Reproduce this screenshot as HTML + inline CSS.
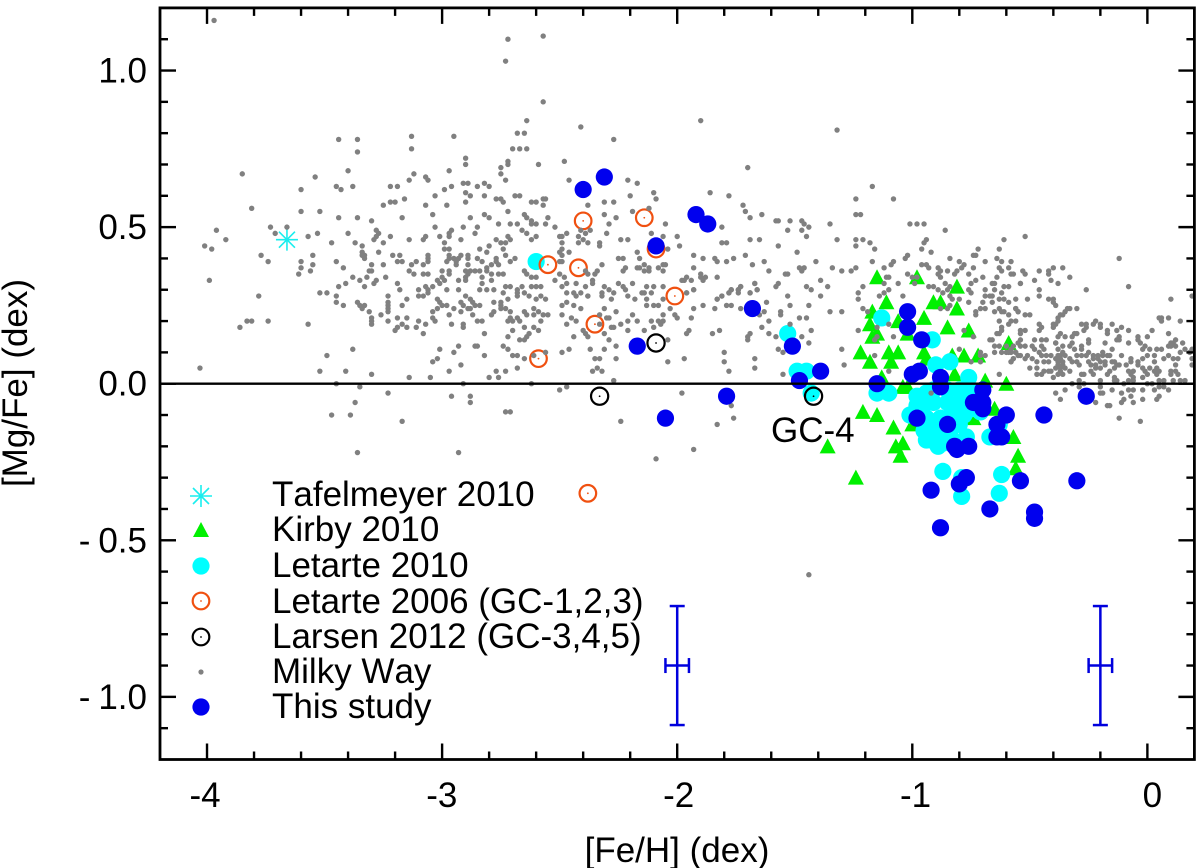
<!DOCTYPE html>
<html lang="en">
<head>
<meta charset="utf-8">
<title>[Mg/Fe] vs [Fe/H]</title>
<style>
html,body{margin:0;padding:0;background:#fff;}
svg{display:block;}
text{font-family:"Liberation Sans",Helvetica,Arial,sans-serif;font-size:35px;fill:#000;font-kerning:none;}
</style>
</head>
<body>
<svg id="chart" xmlns="http://www.w3.org/2000/svg" width="1200" height="868" viewBox="0 0 1200 868">
  <rect x="0" y="0" width="1200" height="868" fill="#fff"/>
  <g id="series"></g>
  <g id="axes"></g>
  <text x="677" y="862" text-anchor="middle">[Fe/H] (dex)</text>
  <text x="27" y="383" text-anchor="middle" transform="rotate(-90 27 383)">[Mg/Fe] (dex)</text>
  <text x="771" y="442">GC-4</text>
  <g>
    <g>
      <g stroke="#19eeee" stroke-width="1.6">
        <line x1="190" y1="496" x2="212" y2="496"/><line x1="201" y1="485" x2="201" y2="507"/><line x1="193" y1="488" x2="209" y2="504"/><line x1="193" y1="504" x2="209" y2="488"/>
      </g>
      <text x="272" y="506">Tafelmeyer 2010</text>
    </g>
    <g>
      <polygon points="201,522 209,537 193,537" fill="#00f000"/>
      <text x="272" y="541">Kirby 2010</text>
    </g>
    <g>
      <circle cx="201" cy="566" r="8.6" fill="#00ffff"/>
      <text x="272" y="577">Letarte 2010</text>
    </g>
    <g>
      <circle cx="201" cy="601" r="8.3" fill="none" stroke="#f05010" stroke-width="2.2"/>
      <circle cx="201" cy="601" r="0.9" fill="#f05010"/>
      <text x="272" y="613">Letarte 2006 (GC-1,2,3)</text>
    </g>
    <g>
      <circle cx="201" cy="637" r="8.3" fill="none" stroke="#000" stroke-width="2.2"/>
      <circle cx="201" cy="637" r="0.9" fill="#000"/>
      <text x="272" y="648">Larsen 2012 (GC-3,4,5)</text>
    </g>
    <g>
      <circle cx="201" cy="672" r="2.6" fill="#808080"/>
      <text x="272" y="683">Milky Way</text>
    </g>
    <g>
      <circle cx="201" cy="707" r="8.6" fill="#0000ee"/>
      <text x="272" y="718">This study</text>
    </g>
  </g>
</svg>
<script>
const xTickValues = [-4, -3, -2, -1, 0];
const xTickLabels = ["-4", "-3", "-2", "-1", "0"];
const yTickValues = [1, 0.5, 0, -0.5, -1];
const yTickLabels = ["1.0", "0.5", "0.0", "-0.5", "-1.0"];
const xDomain = [-4.2, 0.2];
const yDomain = [-1.2, 1.2];
const xMinorStep = 0.2;
const yMinorStep = 0.1;

const tafelmeyer = [[-3.66, 0.46]];
const kirby = [[-1.15,0.34],[-0.98,0.34],[-0.81,0.31],[-1.11,0.26],[-0.91,0.26],[-0.88,0.26],[-0.81,0.24],[-1.17,0.23],[-1.06,0.20],[-0.95,0.21],[-1.18,0.19],[-0.85,0.18],[-0.76,0.17],[-1.02,0.16],[-1.15,0.16],[-1.17,0.15],[-1.22,0.10],[-1.10,0.10],[-1.06,0.10],[-0.95,0.10],[-0.78,0.09],[-0.72,0.09],[-0.59,0.13],[-1.18,0.07],[-1.09,0.07],[-0.94,0.08],[-0.83,0.09],[-0.82,0.03],[-1.13,0.02],[-1.04,-0.01],[-1.02,-0.01],[-0.69,0.01],[-0.60,0.00],[-1.21,-0.09],[-1.15,-0.10],[-1.08,-0.14],[-1.00,-0.13],[-0.74,-0.11],[-0.65,-0.08],[-1.07,-0.20],[-1.04,-0.19],[-1.05,-0.23],[-0.57,-0.17],[-0.55,-0.23],[-0.56,-0.27],[-1.24,-0.30],[-1.36,-0.20]];
const letarte2010 = [[-2.60,0.39],[-1.53,0.16],[-1.49,0.04],[-1.45,0.04],[-1.43,-0.03],[-1.13,0.21],[-0.915,0.14],[-0.90,0.06],[-0.84,0.07],[-0.76,0.02],[-1.15,-0.03],[-1.10,-0.03],[-0.98,-0.04],[-0.98,-0.07],[-1.01,-0.10],[-0.94,-0.03],[-0.91,-0.02],[-0.85,-0.02],[-0.80,-0.02],[-0.76,-0.02],[-0.91,-0.06],[-0.85,-0.06],[-0.80,-0.06],[-0.75,-0.08],[-0.71,-0.09],[-0.94,-0.11],[-0.88,-0.11],[-0.83,-0.11],[-0.80,-0.13],[-0.95,-0.15],[-0.92,-0.18],[-0.87,-0.19],[-0.88,-0.15],[-0.84,-0.15],[-0.77,-0.17],[-0.67,-0.17],[-0.63,-0.13],[-0.87,-0.28],[-0.62,-0.29],[-0.79,-0.30],[-0.79,-0.36],[-0.63,-0.35],[-0.94,-0.18],[-0.89,-0.20],[-0.83,-0.18],[-0.90,-0.13],[-0.83,-0.09],[-0.78,-0.10],[-0.96,-0.08]];
const letarte2006 = [[-2.40,0.52],[-2.14,0.53],[-2.09,0.43],[-2.42,0.37],[-2.55,0.38],[-2.01,0.28],[-2.35,0.19],[-2.59,0.08],[-2.38,-0.35]];
const larsen2012 = [[-2.09,0.13],[-2.33,-0.04],[-1.42,-0.04]];
const thisStudy = [[-2.40,0.62],[-2.31,0.66],[-1.92,0.54],[-1.87,0.51],[-2.09,0.44],[-1.68,0.24],[-2.17,0.12],[-1.51,0.12],[-1.39,0.04],[-1.48,0.01],[-1.79,-0.04],[-2.05,-0.11],[-1.15,0.00],[-1.02,0.23],[-1.02,0.18],[-0.96,0.14],[-1.00,0.03],[-0.97,0.04],[-0.88,0.02],[-0.88,-0.01],[-0.70,-0.02],[-0.74,-0.06],[-0.70,-0.06],[-0.70,-0.08],[-0.60,-0.10],[-0.44,-0.10],[-0.26,-0.04],[-0.98,-0.11],[-0.85,-0.13],[-0.64,-0.13],[-0.64,-0.17],[-0.62,-0.17],[-0.82,-0.20],[-0.81,-0.21],[-0.76,-0.20],[-0.77,-0.30],[-0.80,-0.32],[-0.92,-0.34],[-0.54,-0.31],[-0.30,-0.31],[-0.67,-0.40],[-0.48,-0.41],[-0.48,-0.43],[-0.88,-0.46]];
const errorBars = [[-2.0,-0.9,0.05,0.19],[-0.2,-0.9,0.05,0.19]];
const milkyWay = [
[-3.97,1.16],[-2.72,1.10],[-2.57,1.11],[-2.73,1.03],[-2.57,0.90],[-2.64,0.84],[-2.68,0.80],[-2.65,0.80],[-3.44,0.78],[-3.36,0.78],[-3.36,0.74],[-3.13,0.79],[-3.13,0.75],[-2.95,0.79],[-2.90,0.72],[-2.90,0.70],[-2.70,0.75],[-2.67,0.75],[-2.64,0.75],[-2.72,0.71],[-2.72,0.70],[-2.75,0.69],[-2.75,0.67],[-2.73,0.65],[-2.59,0.70],[-3.85,0.67],[-3.54,0.66],[-3.40,0.68],[-3.45,0.63],[-3.43,0.62],[-3.38,0.63],[-3.60,0.62],[-3.81,0.56],[-3.60,0.55],[-3.52,0.55],[-3.44,0.53],[-3.36,0.53],[-3.73,0.50],[-3.66,0.50],[-3.96,0.49],[-3.71,0.48],[-3.92,0.46],[-4.01,0.44],[-3.98,0.43],[-3.57,0.47],[-3.53,0.48],[-3.47,0.45],[-3.40,0.48],[-3.77,0.41],[-3.74,0.39],[-3.60,0.39],[-3.60,0.37],[-3.55,0.41],[-3.55,0.38],[-3.56,0.36],[-3.61,0.35],[-3.99,0.33],[-3.78,0.28],[-3.52,0.29],[-3.49,0.29],[-3.45,0.28],[-3.45,0.39],[-3.42,0.37],[-3.44,0.31],[-3.41,0.32],[-3.38,0.34],[-3.37,0.45],[-3.34,0.44],[-3.30,0.52],[-3.28,0.49],[-3.27,0.48],[-3.28,0.47],[-3.29,0.46],[-3.25,0.45],[-3.22,0.47],[-3.25,0.57],[-3.22,0.58],[-3.20,0.58],[-3.22,0.63],[-3.19,0.63],[-3.16,0.59],[-3.17,0.53],[-3.14,0.65],[-3.12,0.67],[-3.07,0.66],[-3.06,0.65],[-3.03,0.60],[-3.07,0.57],[-3.04,0.54],[-3.03,0.50],[-2.99,0.62],[-2.96,0.63],[-2.97,0.68],[-2.98,0.57],[-2.91,0.64],[-2.89,0.64],[-2.90,0.61],[-2.88,0.60],[-2.90,0.58],[-2.85,0.63],[-2.82,0.64],[-2.80,0.63],[-2.82,0.60],[-2.77,0.59],[-2.75,0.59],[-2.74,0.58],[-2.69,0.60],[-2.67,0.60],[-2.62,0.58],[-2.60,0.58],[-2.57,0.59],[-2.56,0.59],[-2.57,0.57],[-2.82,0.54],[-2.80,0.53],[-2.88,0.53],[-2.72,0.55],[-2.76,0.51],[-2.71,0.51],[-2.68,0.51],[-2.65,0.54],[-2.64,0.53],[-2.62,0.52],[-2.62,0.51],[-2.60,0.51],[-2.56,0.51],[-2.55,0.53],[-2.91,0.50],[-2.85,0.50],[-2.86,0.48],[-2.96,0.49],[-2.97,0.48],[-2.97,0.47],[-3.01,0.47],[-2.99,0.45],[-2.92,0.46],[-3.14,0.46],[-3.08,0.46],[-3.07,0.47],[-2.99,0.43],[-2.97,0.43],[-2.84,0.43],[-2.80,0.44],[-2.81,0.42],[-2.66,0.49],[-2.64,0.48],[-2.62,0.46],[-2.60,0.47],[-2.77,0.46],[-2.75,0.45],[-2.73,0.45],[-2.72,0.47],[-2.71,0.46],[-2.74,0.43],[-2.73,0.41],[-2.69,0.40],[-2.71,0.39],[-3.21,0.41],[-3.18,0.41],[-3.19,0.39],[-3.17,0.39],[-3.13,0.38],[-3.11,0.39],[-3.08,0.38],[-3.06,0.41],[-3.06,0.40],[-3.06,0.39],[-3.34,0.42],[-3.33,0.41],[-3.34,0.41],[-3.33,0.40],[-3.27,0.42],[-3.30,0.38],[-3.25,0.38],[-3.31,0.36],[-3.30,0.36],[-3.32,0.34],[-3.35,0.33],[-3.28,0.33],[-3.29,0.32],[-3.24,0.34],[-3.33,0.31],[-3.19,0.32],[-3.18,0.30],[-3.23,0.28],[-3.15,0.27],[-3.14,0.36],[-3.12,0.35],[-3.08,0.35],[-3.06,0.35],[-3.10,0.30],[-3.07,0.31],[-3.04,0.31],[-3.06,0.30],[-3.10,0.28],[-3.08,0.28],[-3.06,0.29],[-3.02,0.33],[-3.01,0.32],[-3.00,0.34],[-2.99,0.33],[-3.00,0.36],[-2.97,0.36],[-2.97,0.35],[-2.98,0.30],[-2.93,0.30],[-2.93,0.33],[-2.90,0.36],[-2.88,0.36],[-2.86,0.36],[-2.89,0.35],[-2.90,0.34],[-2.90,0.33],[-2.84,0.36],[-2.83,0.34],[-2.83,0.32],[-2.81,0.37],[-2.81,0.36],[-2.79,0.38],[-2.79,0.35],[-2.79,0.33],[-2.76,0.35],[-2.74,0.35],[-2.97,0.41],[-2.97,0.40],[-2.98,0.39],[-2.95,0.40],[-2.94,0.39],[-2.93,0.40],[-2.92,0.41],[-2.94,0.38],[-2.89,0.41],[-2.89,0.40],[-2.85,0.40],[-2.83,0.39],[-2.89,0.38],[-2.77,0.40],[-2.77,0.39],[-2.76,0.38],[-2.65,0.36],[-2.64,0.35],[-2.62,0.34],[-2.60,0.34],
[-3.45,0.26],[-3.42,0.25],[-3.36,0.26],[-3.35,0.25],[-3.33,0.25],[-3.34,0.24],[-3.31,0.23],[-3.26,0.22],[-3.23,0.26],[-3.23,0.25],[-3.23,0.24],[-3.23,0.23],[-3.17,0.25],[-3.30,0.21],[-3.30,0.20],[-3.30,0.19],[-3.23,0.20],[-3.19,0.21],[-3.15,0.21],[-3.19,0.18],[-3.20,0.17],[-3.17,0.19],[-3.15,0.18],[-3.11,0.18],[-3.10,0.20],[-3.07,0.19],[-3.08,0.16],[-3.04,0.23],[-3.04,0.21],[-3.03,0.20],[-3.02,0.24],[-3.01,0.26],[-3.00,0.25],[-3.02,0.27],[-2.98,0.25],[-2.95,0.24],[-2.97,0.22],[-2.96,0.19],[-2.92,0.23],[-2.91,0.19],[-2.91,0.18],[-2.92,0.26],[-2.91,0.25],[-2.89,0.24],[-2.88,0.24],[-2.87,0.22],[-2.85,0.20],[-2.83,0.20],[-2.82,0.16],[-2.90,0.28],[-2.88,0.27],[-2.87,0.26],[-2.86,0.25],[-2.84,0.25],[-2.79,0.22],[-2.78,0.23],[-2.78,0.26],[-2.75,0.26],[-2.75,0.24],[-2.73,0.24],[-2.71,0.23],[-2.72,0.27],[-2.75,0.25],[-2.71,0.21],[-2.72,0.20],[-2.70,0.20],[-2.68,0.21],[-2.67,0.20],[-2.70,0.17],[-2.72,0.15],[-2.67,0.14],[-2.65,0.14],[-2.64,0.15],[-2.63,0.16],[-2.65,0.18],[-2.61,0.18],[-2.59,0.17],[-2.65,0.23],[-2.64,0.22],[-2.61,0.24],[-2.61,0.22],[-2.59,0.23],[-2.58,0.20],[-2.57,0.22],[-2.55,0.22],[-2.68,0.30],[-2.68,0.29],[-2.66,0.31],[-2.65,0.29],[-2.62,0.31],[-2.60,0.31],[-2.58,0.31],[-2.68,0.28],[-2.63,0.28],[-2.60,0.27],[-2.58,0.28],[-2.56,0.27],[-2.74,0.29],[-2.73,0.31],[-2.71,0.31],[-2.78,0.30],[-2.81,0.30],[-2.84,0.30],[-3.86,0.18],[-3.83,0.20],[-3.81,0.20],[-3.74,0.20],[-3.57,0.19],[-4.03,0.05],[-3.49,0.09],[-3.52,0.04],[-3.41,0.04],[-3.38,0.11],[-3.30,0.03],[-3.14,0.02],[-3.05,0.02],[-3.01,0.11],[-3.02,0.08],[-3.04,0.07],[-2.97,0.04],[-2.95,0.10],[-2.93,0.12],[-2.92,0.06],[-2.86,0.12],[-2.85,0.12],[-2.82,0.09],[-2.80,0.02],[-2.76,0.02],[-2.77,0.04],[-2.73,0.04],[-2.68,0.05],[-2.74,0.12],[-2.72,0.11],[-2.70,0.09],[-2.68,0.09],[-2.65,0.08],[-2.61,0.09],[-2.56,0.10],[-3.45,0.00],[-3.35,-0.01],[-3.23,-0.03],[-3.37,-0.06],[-3.47,-0.10],[-3.39,-0.10],[-3.17,-0.12],[-2.96,-0.04],[-2.88,-0.04],[-2.88,-0.06],[-2.91,0.00],[-2.62,0.00],[-2.73,-0.09],[-2.71,-0.09],[-3.36,-0.22],[-2.93,-0.22],
[-2.41,0.82],[-2.27,0.78],[-1.90,0.84],[-1.32,0.81],[-2.48,0.71],[-1.70,0.69],[-2.46,0.65],[-2.21,0.65],[-2.17,0.64],[-2.10,0.61],[-2.09,0.59],[-2.20,0.60],[-2.31,0.58],[-2.27,0.58],[-1.86,0.61],[-1.78,0.60],[-2.38,0.57],[-2.31,0.54],[-2.19,0.55],[-2.12,0.56],[-2.26,0.53],[-2.29,0.51],[-2.30,0.48],[-2.52,0.50],[-2.47,0.48],[-2.50,0.47],[-2.49,0.47],[-2.42,0.47],[-2.39,0.48],[-2.40,0.46],[-2.42,0.45],[-2.38,0.45],[-2.49,0.45],[-2.37,0.49],[-2.41,0.49],[-2.33,0.45],[-2.33,0.44],[-2.24,0.46],[-2.21,0.46],[-2.17,0.42],[-2.25,0.40],[-2.23,0.40],[-2.16,0.40],[-2.49,0.43],[-2.50,0.42],[-2.46,0.42],[-2.49,0.41],[-2.50,0.39],[-2.49,0.39],[-2.32,0.38],[-2.14,0.38],[-2.06,0.38],[-2.05,0.38],[-2.22,0.37],[-2.23,0.36],[-2.17,0.37],[-2.16,0.37],[-2.14,0.36],[-2.12,0.37],[-2.12,0.36],[-2.08,0.37],[-2.06,0.36],[-2.11,0.48],[-2.06,0.47],[-2.00,0.47],[-1.99,0.44],[-2.04,0.43],[-2.05,0.51],[-1.81,0.50],[-1.81,0.45],[-1.79,0.45],[-1.93,0.41],[-1.89,0.40],[-1.84,0.40],[-1.83,0.39],[-1.79,0.39],[-1.76,0.40],[-1.71,0.41],[-1.93,0.37],[-1.68,0.38],[-1.63,0.39],[-1.61,0.36],[-1.90,0.35],[-1.90,0.34],[-1.88,0.34],[-1.89,0.33],[-1.83,0.34],[-1.96,0.34],[-1.97,0.33],[-1.94,0.33],[-1.98,0.33],[-1.93,0.30],[-1.96,0.29],[-1.72,0.57],[-1.71,0.55],[-1.69,0.53],[-1.64,0.54],[-1.58,0.52],[-1.57,0.52],[-1.52,0.52],[-1.47,0.52],[-1.46,0.51],[-1.44,0.50],[-1.53,0.49],[-1.47,0.49],[-1.45,0.47],[-1.69,0.46],[-1.65,0.46],[-1.57,0.44],[-1.49,0.42],[-1.41,0.39],[-1.53,0.35],[-1.54,0.35],[-1.48,0.37],[-1.46,0.37],[-1.47,0.36],[-1.35,0.51],[-1.32,0.46],[-1.24,0.46],[-1.24,0.44],[-1.21,0.46],[-1.18,0.45],[-1.16,0.43],[-1.17,0.39],[-1.24,0.59],[-1.08,0.59],[-1.17,0.63],[-1.24,0.54],[-1.22,0.54],[-1.01,0.51],[-0.98,0.51],[-0.95,0.51],[-0.86,0.49],[-0.94,0.46],[-0.95,0.45],[-0.96,0.43],[-0.92,0.42],[-1.02,0.41],[-1.03,0.40],[-1.08,0.39],[-1.09,0.38],[-0.96,0.38],[-0.94,0.38],[-0.93,0.37],[-0.89,0.37],[-0.88,0.36],[-0.89,0.35],[-0.88,0.34],[-0.85,0.36],[-0.84,0.40],[-1.34,0.37],[-1.30,0.36],[-1.26,0.36],[-1.24,0.37],[-1.39,0.33],[-1.36,0.31],[-1.45,0.31],[-1.43,0.30],[-1.39,0.28],[-1.53,0.28],[-1.67,0.32],[-1.66,0.30],[-1.69,0.29],[-1.57,0.32],[-1.58,0.31],[-1.73,0.31],[-1.74,0.30],[-1.77,0.30],[-1.78,0.29],[-1.81,0.28],[-1.83,0.27],[-1.21,0.31],[-1.23,0.29],[-1.14,0.28],[-1.10,0.30],[-1.06,0.32],[-1.02,0.35],[-0.99,0.32],[-0.93,0.31],[-0.91,0.31],[-0.89,0.30],[-0.86,0.32],[-1.04,0.28],[-0.87,0.29],[-0.85,0.30],
[-2.49,0.31],[-2.47,0.32],[-2.43,0.32],[-2.39,0.31],[-2.44,0.29],[-2.41,0.29],[-2.47,0.29],[-2.38,0.28],[-2.43,0.28],[-2.52,0.33],[-2.36,0.33],[-2.36,0.32],[-2.34,0.36],[-2.35,0.35],[-2.38,0.35],[-2.39,0.36],[-2.48,0.34],[-2.50,0.35],[-2.32,0.29],[-2.32,0.28],[-2.31,0.31],[-2.29,0.30],[-2.27,0.29],[-2.25,0.32],[-2.23,0.31],[-2.22,0.30],[-2.19,0.32],[-2.21,0.28],[-2.15,0.29],[-2.14,0.29],[-2.13,0.31],[-2.10,0.31],[-2.06,0.31],[-2.11,0.29],[-2.06,0.27],[-2.13,0.27],[-2.18,0.27],[-2.28,0.27],
[-2.47,0.26],[-2.44,0.25],[-2.41,0.24],[-2.49,0.25],[-2.38,0.28],[-2.49,0.22],[-2.47,0.19],[-2.45,0.21],[-2.43,0.20],[-2.44,0.15],[-2.46,0.11],[-2.49,0.10],[-2.40,0.17],[-2.39,0.16],[-2.38,0.15],[-2.37,0.11],[-2.35,0.08],[-2.33,0.08],[-2.36,0.04],[-2.34,0.05],[-2.32,0.04],[-2.27,0.01],[-2.31,0.11],[-2.29,0.14],[-2.26,0.12],[-2.26,0.08],[-2.31,0.16],[-2.28,0.18],[-2.27,0.18],[-2.24,0.19],[-2.33,0.19],[-2.29,0.21],[-2.26,0.23],[-2.31,0.24],[-2.33,0.22],[-2.30,0.21],[-2.21,0.20],[-2.19,0.22],[-2.21,0.17],[-2.17,0.20],[-2.14,0.17],[-2.11,0.20],[-2.10,0.18],[-2.08,0.20],[-2.07,0.19],[-2.06,0.20],[-2.06,0.22],[-2.00,0.21],[-2.01,0.22],[-2.13,0.25],[-2.10,0.25],[-2.08,0.25],[-2.03,0.24],[-1.94,0.21],[-1.93,0.24],[-1.89,0.25],[-1.84,0.24],[-1.79,0.25],[-1.77,0.25],[-1.73,0.24],[-1.93,0.30],[-1.96,0.29],[-1.83,0.27],[-1.81,0.28],[-1.77,0.30],[-1.78,0.29],[-1.74,0.29],[-1.74,0.30],[-1.73,0.31],[-1.69,0.29],[-1.66,0.30],[-1.67,0.32],[-1.62,0.26],[-1.63,0.23],[-1.61,0.20],[-1.64,0.18],[-1.61,0.16],[-1.65,0.22],[-1.69,0.16],[-1.70,0.15],[-1.70,0.14],[-1.58,0.15],[-1.57,0.11],[-1.55,0.10],[-1.55,0.03],[-1.56,0.23],[-1.56,0.22],[-1.52,0.19],[-1.48,0.21],[-1.45,0.21],[-1.44,0.25],[-1.52,0.25],[-1.35,0.23],[-1.43,0.17],[-1.47,0.15],[-1.44,0.13],[-1.80,0.10],[-1.80,0.07],[-1.78,0.04],[-1.67,0.08],[-1.67,0.05],[-1.85,0.16],[-1.82,0.17],[-1.95,0.17],[-1.96,0.16],[-1.97,0.08],[-2.04,0.07],[-2.04,0.14],[-1.98,-0.03],[-1.77,-0.07],[-1.76,-0.11],[-1.83,-0.13],[-2.24,-0.12],[-1.93,-0.21],[-2.09,-0.24],[-2.50,-0.02],[-2.47,-0.01],[-1.44,-0.61],
[-1.12,0.37],[-1.11,0.34],[-1.10,0.34],[-1.12,0.32],[-1.23,0.27],[-1.21,0.24],[-1.19,0.23],[-1.12,0.29],[-1.30,0.23],[-1.23,0.17],[-1.30,0.11],[-1.29,0.06],[-1.10,0.19],[-1.08,0.15],[-1.16,0.09],[-1.10,0.04],[-1.15,0.18],[-1.15,0.15],[-1.16,0.14],[-1.00,0.34],[-0.98,0.34],[-0.82,0.35],[-0.81,0.36],[-0.80,0.39],[-0.78,0.38],[-0.79,0.37],[-0.74,0.37],[-0.76,0.35],[-0.74,0.41],[-0.73,0.41],[-0.72,0.43],[-0.69,0.39],[-0.64,0.40],[-0.63,0.43],[-0.61,0.46],[-0.62,0.39],[-0.58,0.39],[-0.63,0.37],[-0.62,0.36],[-0.59,0.37],[-0.58,0.35],[-0.57,0.35],[-0.70,0.34],[-0.73,0.33],[-0.75,0.32],[-0.64,0.34],[-0.65,0.32],[-0.66,0.32],[-0.61,0.31],[-0.59,0.31],[-0.54,0.32],[-0.84,0.31],[-0.84,0.28],[-0.83,0.27],[-0.80,0.27],[-0.76,0.30],[-0.75,0.29],[-0.69,0.30],[-0.69,0.28],[-0.67,0.28],[-0.66,0.28],[-0.65,0.30],[-0.62,0.29],[-0.63,0.27],[-0.61,0.27],[-0.59,0.26],[-0.56,0.27],[-0.76,0.26],[-0.70,0.26],[-0.66,0.26],[-0.71,0.24],[-0.69,0.24],[-0.73,0.23],[-0.73,0.22],[-0.65,0.23],[-0.63,0.24],[-0.62,0.23],[-0.61,0.23],[-0.59,0.22],[-0.56,0.24],[-0.55,0.23],[-0.88,0.24],[-0.85,0.24],[-0.84,0.25],[-0.63,0.20],[-0.56,0.20],[-0.59,0.19],[-0.58,0.20],[-0.62,0.18],[-0.62,0.17],[-0.63,0.16],[-0.64,0.16],[-0.67,0.14],[-0.66,0.14],[-0.78,0.17],[-0.74,0.15],[-0.80,0.11],[-0.71,0.10],[-0.71,0.09],[-0.69,0.09],[-0.75,0.07],[-0.71,0.07],[-0.65,0.12],[-0.63,0.12],[-0.65,0.10],[-0.62,0.10],[-0.60,0.12],[-0.58,0.11],[-0.57,0.12],[-0.55,0.13],[-0.59,0.10],[-0.56,0.10],[-0.57,0.08],[-0.58,0.07],[-0.63,0.03],[-0.92,-0.03],
[-0.52,0.47],[-0.12,0.40],[-0.53,0.36],[-0.52,0.35],[-0.46,0.36],[-0.42,0.36],[-0.42,0.35],[-0.40,0.37],[-0.36,0.37],[-0.48,0.33],[-0.41,0.33],[-0.33,0.34],[-0.54,0.32],[-0.38,0.32],[-0.46,0.30],[-0.46,0.28],[-0.26,0.30],[-0.08,0.31],[-0.51,0.27],[-0.42,0.27],[-0.40,0.27],[-0.40,0.26],[-0.39,0.25],[0.10,0.27],[0.19,0.28],[-0.56,0.24],[-0.55,0.23],[-0.52,0.22],[-0.50,0.22],[-0.33,0.24],[-0.30,0.24],[-0.34,0.24],[-0.35,0.23],[-0.36,0.22],[-0.38,0.21],[-0.37,0.22],[-0.38,0.20],[-0.40,0.19],[-0.40,0.18],[-0.39,0.19],[-0.46,0.19],[-0.45,0.18],[-0.46,0.17],[-0.54,0.17],[-0.52,0.17],[-0.54,0.16],[-0.28,0.19],[-0.26,0.19],[-0.22,0.20],[-0.23,0.19],[-0.20,0.19],[-0.20,0.18],[-0.26,0.18],[-0.27,0.17],[-0.15,0.19],[-0.11,0.18],[-0.13,0.17],[-0.08,0.17],[-0.17,0.17],[-0.17,0.16],[0.02,0.17],[0.05,0.21],[0.06,0.21],[0.06,0.20],[0.09,0.21],[0.14,0.20],[0.09,0.16],[-0.37,0.16],[-0.38,0.15],[-0.39,0.13],[-0.35,0.15],[-0.32,0.15],[-0.31,0.16],[-0.30,0.16],[-0.25,0.14],[-0.25,0.13],[-0.18,0.13],[-0.12,0.15],[-0.13,0.14],[-0.12,0.14],[-0.08,0.13],[-0.04,0.15],[-0.04,0.14],[0.00,0.15],[-0.03,0.13],[0.12,0.14],[0.10,0.13],[0.11,0.13],[0.09,0.12],[0.15,0.13],[0.12,0.12],[-0.48,0.14],[-0.45,0.14],[-0.43,0.14],[-0.54,0.14],
[-0.49,0.12],[-0.48,0.11],[-0.45,0.12],[-0.44,0.11],[-0.46,0.10],[-0.45,0.09],[-0.43,0.09],[-0.41,0.09],[-0.38,0.09],[-0.37,0.09],[-0.36,0.12],[-0.36,0.10],[-0.39,0.13],[-0.38,0.11],[-0.32,0.13],[-0.33,0.12],[-0.31,0.11],[-0.28,0.12],[-0.28,0.11],[-0.30,0.09],[-0.28,0.09],[-0.26,0.09],[-0.25,0.10],[-0.23,0.09],[-0.21,0.09],[-0.19,0.09],[-0.17,0.09],[-0.16,0.09],[-0.15,0.11],[-0.19,0.10],[-0.23,0.08],[-0.21,0.08],[-0.37,0.08],[-0.38,0.07],[-0.39,0.08],[-0.36,0.07],[-0.35,0.09],[-0.33,0.08],[-0.32,0.07],[-0.30,0.07],[-0.29,0.06],[-0.25,0.07],[-0.22,0.06],[-0.20,0.07],[-0.18,0.07],[-0.15,0.07],[-0.13,0.06],[-0.11,0.09],[-0.07,0.08],[-0.09,0.06],[-0.12,0.06],[-0.14,0.07],[-0.16,0.04],[-0.14,0.05],[-0.17,0.03],[-0.18,0.06],[-0.20,0.05],[-0.22,0.05],[-0.24,0.06],[-0.24,0.04],[-0.23,0.03],[-0.28,0.03],[-0.27,0.03],[-0.33,0.04],[-0.35,0.05],[-0.37,0.05],[-0.38,0.06],[-0.36,0.06],[-0.39,0.05],[-0.37,0.04],[-0.38,0.03],[-0.36,0.03],[-0.41,0.04],[-0.42,0.04],[-0.40,0.02],[-0.45,0.03],[-0.47,0.03],[-0.47,0.05],[-0.50,0.05],[-0.44,0.04],[-0.44,0.07],[-0.42,0.07],[-0.47,0.07],[-0.49,0.08],[-0.51,0.09],[-0.52,0.08],[-0.55,0.09],[-0.54,0.09],[-0.58,0.07],[-0.57,0.08],[-0.56,0.10],[-0.58,0.10],[-0.60,0.10],[-0.54,0.12],[-0.52,0.12],[-0.14,0.02],[-0.13,0.01],[-0.14,0.01],[-0.10,0.00],[-0.08,0.04],[-0.06,0.04],[-0.04,0.06],[-0.02,0.05],[-0.07,0.03],[-0.06,0.02],[-0.08,0.01],[-0.06,0.01],[-0.02,0.02],[0.00,0.03],[-0.01,0.04],[0.01,0.05],[0.03,0.07],[0.04,0.05],[0.05,0.04],[0.03,0.04],[0.04,0.03],[0.05,0.01],[0.07,0.01],[0.10,0.03],[0.11,0.01],[0.13,0.03],[0.14,0.01],[0.16,0.01],[0.10,0.04],[0.12,0.04],[0.07,0.08],[0.09,0.09],[0.11,0.08],[0.13,0.08],[0.14,0.10],[0.06,0.11],[0.04,0.11],[0.01,0.11],[-0.02,0.11],[-0.01,0.12],[0.03,0.09],[0.00,0.09],[-0.02,0.08],[-0.04,0.07],[-0.07,0.07],[0.19,0.11],[0.18,0.10],[0.16,0.11],[0.19,0.08],[0.19,0.06],[0.12,0.06],[0.10,0.12],
[-0.39,-0.03],[-0.35,-0.02],[-0.37,-0.05],[-0.32,0.00],[-0.29,0.01],[-0.27,0.00],[-0.29,-0.01],[-0.20,-0.01],[-0.22,-0.06],[-0.20,-0.03],[-0.19,-0.03],[-0.17,-0.07],[-0.16,-0.07],[-0.15,-0.02],[-0.11,-0.03],[-0.10,-0.05],[-0.11,-0.06],[-0.08,-0.02],[-0.06,-0.02],[-0.07,-0.04],[-0.06,-0.06],[-0.02,-0.02],[-0.02,-0.05],[0.03,-0.02],[0.05,-0.01],[0.07,-0.01],[0.05,-0.04],[0.04,-0.05],[0.09,-0.02],[-0.12,-0.11],[-0.03,-0.12],[0.00,0.00],[0.02,0.00],[-0.20,0.01]
];

const plotLeft = 160, plotRight = 1194.4, plotTop = 7.9, plotBottom = 759.5;
const NS = 'http://www.w3.org/2000/svg';
const seriesLayer = document.getElementById('series');
const axesLayer = document.getElementById('axes');

function sx(v) { return plotLeft + (v - xDomain[0]) / (xDomain[1] - xDomain[0]) * (plotRight - plotLeft); }
function sy(v) { return plotBottom - (v - yDomain[0]) / (yDomain[1] - yDomain[0]) * (plotBottom - plotTop); }
function make(parent, tag, attrs) {
  const el = document.createElementNS(NS, tag);
  for (const k in attrs) el.setAttribute(k, attrs[k]);
  parent.appendChild(el);
  return el;
}

// Tafelmeyer stars
tafelmeyer.forEach(function (p) {
  const g = make(seriesLayer, 'g', { stroke: '#19eeee', 'stroke-width': 1.6 });
  
  
  const x = sx(p[0]), y = sy(p[1]);
  make(g, 'line', { x1: x - 11, y1: y, x2: x + 11, y2: y });
  make(g, 'line', { x1: x, y1: y - 11, x2: x, y2: y + 11 });
  make(g, 'line', { x1: x - 8, y1: y - 8, x2: x + 8, y2: y + 8 });
  make(g, 'line', { x1: x - 8, y1: y + 8, x2: x + 8, y2: y - 8 });
});

// Kirby triangles
kirby.forEach(function (p) {
  const x = sx(p[0]), y = sy(p[1]);
  const el = make(seriesLayer, 'polygon', { points: x + ',' + (y - 8) + ' ' + (x + 8) + ',' + (y + 7) + ' ' + (x - 8) + ',' + (y + 7), fill: '#00f000' });
  
  
});

// Letarte 2010 discs
letarte2010.forEach(function (p) {
  const el = make(seriesLayer, 'circle', { cx: sx(p[0]), cy: sy(p[1]), r: 8.6, fill: '#00ffff' });
  
  
});

// Letarte 2006 rings
letarte2006.forEach(function (p) {
  const el = make(seriesLayer, 'circle', { cx: sx(p[0]), cy: sy(p[1]), r: 8.3, fill: 'none', stroke: '#f05010', 'stroke-width': 2.2 });
  
  
  const dot = make(seriesLayer, 'circle', { cx: sx(p[0]), cy: sy(p[1]), r: 0.9, fill: '#f05010' });
  
  
});

// Larsen 2012 rings
larsen2012.forEach(function (p) {
  const el = make(seriesLayer, 'circle', { cx: sx(p[0]), cy: sy(p[1]), r: 8.6, fill: 'none', stroke: '#000', 'stroke-width': 2.2 });
  
  
  const dot = make(seriesLayer, 'circle', { cx: sx(p[0]), cy: sy(p[1]), r: 0.9, fill: '#000' });
  
  
});

// Milky Way dots
milkyWay.forEach(function (p) {
  const el = make(seriesLayer, 'circle', { cx: sx(p[0]), cy: sy(p[1]), r: 2.7, fill: '#808080' });
  
  
});

// This study discs
thisStudy.forEach(function (p) {
  const el = make(seriesLayer, 'circle', { cx: sx(p[0]), cy: sy(p[1]), r: 8.6, fill: '#0000ee' });
  
  
});

// Error bars
errorBars.forEach(function (b) {
  const g = make(seriesLayer, 'g', { stroke: '#0000dd', 'stroke-width': 2.5, fill: 'none' });
  
  
  const x = sx(b[0]), y = sy(b[1]), x0 = sx(b[0] - b[2]), x1 = sx(b[0] + b[2]), y0 = sy(b[1] - b[3]), y1 = sy(b[1] + b[3]);
  make(g, 'line', { x1: x, y1: y0, x2: x, y2: y1 });
  make(g, 'line', { x1: x - 7.5, y1: y0, x2: x + 7.5, y2: y0 });
  make(g, 'line', { x1: x - 7.5, y1: y1, x2: x + 7.5, y2: y1 });
  make(g, 'line', { x1: x0, y1: y, x2: x1, y2: y });
  make(g, 'line', { x1: x0, y1: y - 7.5, x2: x0, y2: y + 7.5 });
  make(g, 'line', { x1: x1, y1: y - 7.5, x2: x1, y2: y + 7.5 });
});

// Zero reference line
const zeroLine = make(axesLayer, 'line', { x1: plotLeft, x2: plotRight, y1: sy(0), y2: sy(0), stroke: '#000', 'stroke-width': 2.4 });



// Minor ticks
const tickGroup = make(axesLayer, 'g', { stroke: '#000', 'stroke-width': 2.4 });


for (let i = Math.ceil((xDomain[0] + 1e-6) / xMinorStep); i * xMinorStep < xDomain[1] - 1e-6; i++) {
  const v = i * xMinorStep;
  const major = xTickValues.some(function (t) { return Math.abs(t - v) < 1e-6; });
  const len = major ? 16 : 8;
  const x = sx(v);
  const a = make(tickGroup, 'line', { x1: x, x2: x, y1: plotBottom, y2: plotBottom - len });
  
  
  const b = make(tickGroup, 'line', { x1: x, x2: x, y1: plotTop, y2: plotTop + len });
  
  
}
for (let i = Math.ceil((yDomain[0] + 1e-6) / yMinorStep); i * yMinorStep < yDomain[1] - 1e-6; i++) {
  const v = i * yMinorStep;
  const major = yTickValues.some(function (t) { return Math.abs(t - v) < 1e-6; });
  const len = major ? 16 : 8;
  const y = sy(v);
  const a = make(tickGroup, 'line', { x1: plotLeft, x2: plotLeft + len, y1: y, y2: y });
  
  
  const b = make(tickGroup, 'line', { x1: plotRight, x2: plotRight - len, y1: y, y2: y });
  
  
}

// Tick labels
xTickValues.forEach(function (v, i) {
  const t = make(axesLayer, 'text', { x: sx(v) + 5 + v * 1.75, y: 807, 'text-anchor': 'middle' });
  t.textContent = xTickLabels[i];
  
  
});
yTickValues.forEach(function (v, i) {
  const t = make(axesLayer, 'text', { x: 147, y: sy(v) + 12, 'text-anchor': 'end' });
  
  
  const label = yTickLabels[i];
  if (label.charAt(0) === '-') {
    const sign = make(t, 'tspan', {});
    sign.textContent = '-';
    
    
    const rest = make(t, 'tspan', { dx: 8 });
    rest.textContent = label.slice(1);
    
    
  } else {
    t.textContent = label;
  }
});

// Frame
const frame = make(axesLayer, 'rect', { x: plotLeft, y: plotTop, width: plotRight - plotLeft, height: plotBottom - plotTop, fill: 'none', stroke: '#000', 'stroke-width': 2.8 });


</script>
</body>
</html>
